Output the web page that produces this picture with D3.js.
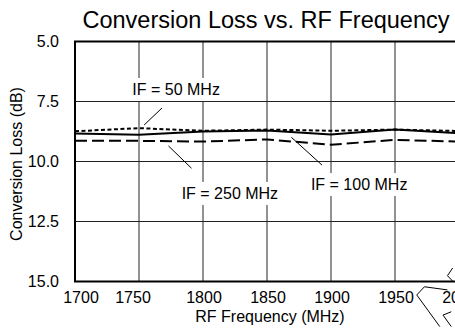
<!DOCTYPE html>
<html>
<head>
<meta charset="utf-8">
<script src="https://cdn.jsdelivr.net/npm/d3@7"></script>
<style>
  body { margin: 0; background: #fff; }
  text { font-family: "Liberation Sans", Arial, sans-serif; fill: #000; }
</style>
</head>
<body>
<div class="content"></div>
<script>
// DATA
var freqs = [1700, 1750, 1800, 1850, 1900, 1950, 2000];
var loss50 = [8.74, 8.61, 8.72, 8.67, 8.72, 8.67, 8.73];
var loss100 = [8.83, 8.89, 8.75, 8.71, 8.88, 8.67, 8.82];
var loss250 = [9.14, 9.14, 9.17, 9.08, 9.30, 9.10, 9.17];
var yTicks = [5.0, 7.5, 10.0, 12.5, 15.0];
var xTicks = [1700, 1750, 1800, 1850, 1900, 1950, 2000];

// callout labels, in data units (MHz, dB)
var calloutText = ['IF = 50 MHz', 'IF = 250 MHz', 'IF = 100 MHz'];
var calloutAt = [[1779, 7.23], [1821, 11.56], [1922, 11.19]];
var leaderFrom = [[1768, 7.77], [1773, 9.35], [1869, 8.99]];
var leaderTo = [[1754, 8.48], [1791, 10.28], [1893, 10.15]];

// stray arrow outlines at the lower right corner of the scan
var arrowMarks = [
  [[1995, 14.44], [1991, 14.76], [1995, 14.98]],
  [[1991, 15.35], [1973, 15.22], [1967, 15.56], [1985, 16.88]],
  [[1994, 16.26], [1987.5, 16.40], [1994, 16.88]]
];

// VARIABLES
var w = 455, h = 330;
var plotL = 75, plotR = 459, plotT = 41.5, plotB = 281.5;

var svg = d3.select('.content').append('svg')
    .attr('width', w)
    .attr('height', h);

// SCALES
var x = d3.scaleLinear().domain([1700, 2000]).range([plotL, plotR]);
var y = d3.scaleLinear().domain([5, 15]).range([plotT, plotB]);

// GRID
svg.selectAll('.vgrid')
    .data(xTicks.slice(1))
    .enter().append('line')
    .attr('x1', function(d) { return x(d); })
    .attr('x2', function(d) { return x(d); })
    .attr('y1', plotT).attr('y2', plotB)
    .attr('stroke', '#777').attr('stroke-width', 1.6);

svg.selectAll('.hgrid')
    .data(yTicks.slice(1, -1))
    .enter().append('line')
    .attr('x1', plotL).attr('x2', plotR)
    .attr('y1', function(d) { return y(d); })
    .attr('y2', function(d) { return y(d); })
    .attr('stroke', '#222').attr('stroke-width', 1);

// FRAME
svg.append('path')
    .attr('d', 'M' + plotR + ',' + plotT + 'H' + plotL + 'V' + plotB + 'H' + plotR)
    .attr('fill', 'none').attr('stroke', '#000').attr('stroke-width', 2);

// TICK LABELS
svg.selectAll('.ylab')
    .data(yTicks)
    .enter().append('text')
    .attr('x', 59)
    .attr('y', function(d) { return y(d) + 5.5; })
    .attr('text-anchor', 'end')
    .style('font-size', '16px')
    .text(function(d) { return d.toFixed(1); });

svg.selectAll('.xlab')
    .data(xTicks)
    .enter().append('text')
    .attr('x', function(d) { return x(d) + (d === 1700 ? 6 : d === 1750 ? -6 : 1); })
    .attr('y', 302.5)
    .attr('text-anchor', 'middle')
    .style('font-size', '16px')
    .text(function(d) { return d; });

// TITLES
svg.append('text')
    .attr('x', 266).attr('y', 28)
    .attr('text-anchor', 'middle')
    .style('font-size', '23.5px')
    .text('Conversion Loss vs. RF Frequency');

svg.append('text')
    .attr('x', 270).attr('y', 321.5)
    .attr('text-anchor', 'middle')
    .style('font-size', '16px')
    .text('RF Frequency (MHz)');

svg.append('text')
    .attr('transform', 'translate(22,164) rotate(-90)')
    .attr('text-anchor', 'middle')
    .style('font-size', '16px')
    .text('Conversion Loss (dB)');

// CALLOUT LABELS (white box hides the grid behind)
calloutText.forEach(function(t, i) {
  var g = svg.append('g');
  var rect = g.append('rect').attr('fill', '#fff');
  var txt = g.append('text')
      .attr('x', x(calloutAt[i][0]))
      .attr('y', y(calloutAt[i][1]))
      .attr('text-anchor', 'middle')
      .style('font-size', '16px')
      .text(t);
  var bb = txt.node().getBBox();
  rect.attr('x', bb.x - 6).attr('y', bb.y - 3)
      .attr('width', bb.width + 12).attr('height', bb.height + 6);
});

svg.selectAll('.leader')
    .data(leaderFrom)
    .enter().append('line')
    .attr('x1', function(d) { return x(d[0]); })
    .attr('y1', function(d) { return y(d[1]); })
    .attr('x2', function(d, i) { return x(leaderTo[i][0]); })
    .attr('y2', function(d, i) { return y(leaderTo[i][1]); })
    .attr('stroke', '#000').attr('stroke-width', 1);

// DATA LINES
var line = d3.line()
    .x(function(d, i) { return x(freqs[i]); })
    .y(function(d) { return y(d); });

var series = [
  { values: loss250, dash: '12,5' },
  { values: loss100, dash: null },
  { values: loss50, dash: '4,2.5' }
];

svg.selectAll('.series')
    .data(series)
    .enter().append('path')
    .attr('d', function(d) { return line(d.values); })
    .attr('fill', 'none')
    .attr('stroke', '#000')
    .attr('stroke-width', 2)
    .attr('stroke-dasharray', function(d) { return d.dash; });

// ARROW OUTLINES
var arrowLine = d3.line()
    .x(function(d) { return x(d[0]); })
    .y(function(d) { return y(d[1]); });

svg.selectAll('.arrow')
    .data(arrowMarks)
    .enter().append('path')
    .attr('d', arrowLine)
    .attr('fill', 'none')
    .attr('stroke', '#000')
    .attr('stroke-width', 1);
</script>
</body>
</html>
